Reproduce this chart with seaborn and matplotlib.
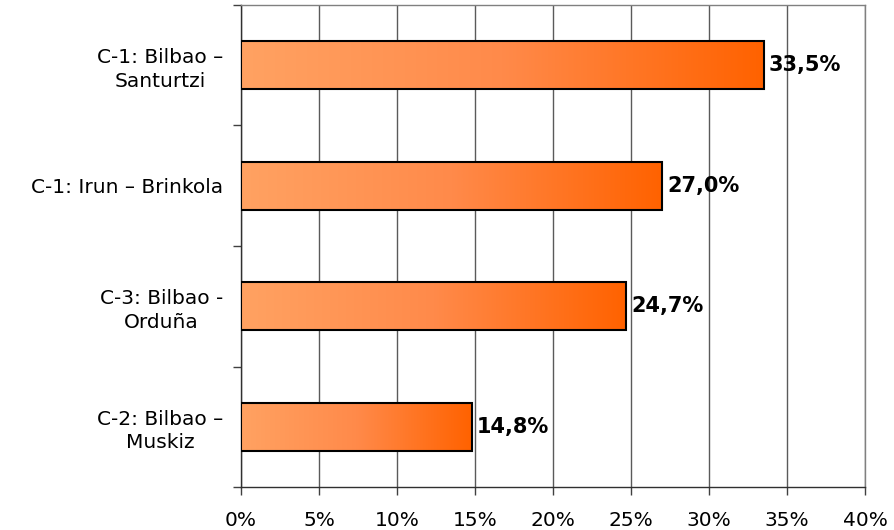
import numpy as np
import pandas as pd
import matplotlib
matplotlib.use("Agg")
import matplotlib.pyplot as plt
from matplotlib.colors import LinearSegmentedColormap
from matplotlib.ticker import MultipleLocator, FuncFormatter
import seaborn as sns

# Datos
lineas = ["C-1: Bilbao –\nSanturtzi", "C-1: Irun – Brinkola",
          "C-3: Bilbao -\nOrduña", "C-2: Bilbao –\nMuskiz"]
porcentajes = [33.5, 27.0, 24.7, 14.8]

df = pd.DataFrame({"linea": lineas, "pct": porcentajes})

sns.set_style("ticks")
plt.rcParams['font.family'] = ['DejaVu Sans']

fig = plt.figure(figsize=(8.94, 5.30), dpi=100)
ax = fig.add_axes([0.2696, 0.0811, 0.698, 0.9095])

sns.barplot(data=df, x="pct", y="linea", orient="h", width=0.4,
            color="#ff8a40", edgecolor="black", linewidth=1.5, ax=ax, zorder=3)

# relleno degradado en cada barra
cmap = LinearSegmentedColormap.from_list("naranja", ["#ffa262", "#ff8a4a", "#ff6200"])
grad = np.linspace(0, 1, 256).reshape(1, -1)
for p in ax.patches:
    x0, y0 = p.get_x(), p.get_y()
    w, h = p.get_width(), p.get_height()
    im = ax.imshow(grad, cmap=cmap, aspect="auto", extent=[x0, x0 + w, y0 + h, y0],
                   zorder=3.5, interpolation="bicubic")
    im.set_clip_path(p)
    p.set_facecolor("none")
    p.set_zorder(4)

ax.set_xlim(0, 40)
ax.set_ylim(3.5, -0.5)
ax.xaxis.set_major_locator(MultipleLocator(5))
ax.xaxis.set_major_formatter(FuncFormatter(lambda v, pos: f"{v:.0f}%"))
ax.grid(axis="x", color="#5a5a5a", linewidth=1, zorder=0)
ax.set_axisbelow(True)

# marcas del eje Y entre categorías
ax.set_yticks([-0.5, 0.5, 1.5, 2.5, 3.5], minor=True)
ax.tick_params(axis="y", which="major", left=False, length=0, pad=13,
               labelsize=14.5, labelcolor="black")
ax.tick_params(axis="y", which="minor", left=True, length=6, width=1,
               color="#404040", direction="out")
ax.tick_params(axis="x", which="major", bottom=True, length=6, width=1,
               color="#404040", direction="out", labelsize=14.5, pad=11,
               labelcolor="black")
for lbl in ax.get_yticklabels():
    lbl.set_multialignment("center")
    lbl.set_linespacing(1.3)

for s in ["top", "right"]:
    ax.spines[s].set_visible(True)
    ax.spines[s].set_color("#808080")
    ax.spines[s].set_linewidth(1)
for s in ["left", "bottom"]:
    ax.spines[s].set_color("#303030")
    ax.spines[s].set_linewidth(1)

for i, v in enumerate(porcentajes):
    ax.text(v + 0.3, i, f"{v:.1f}%".replace(".", ","), va="center", ha="left",
            fontsize=15, fontweight="bold", color="black", zorder=5)

ax.set_xlabel("")
ax.set_ylabel("")

fig.savefig("out.png", dpi=100)
